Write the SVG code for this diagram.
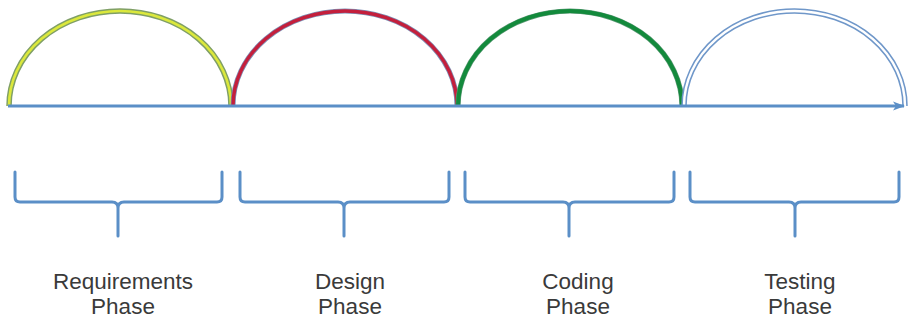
<svg xmlns="http://www.w3.org/2000/svg" width="910" height="324" viewBox="0 0 910 324">
  <defs>
    <style>
      .brace { fill: none; stroke: #5b8fc7; stroke-width: 3; stroke-linecap: round; stroke-linejoin: round; }
      .arc { fill: none; stroke-linecap: butt; }
      .label { font-family: "Liberation Sans", Arial, sans-serif; font-size: 22.5px; fill: #3a3a3a; text-anchor: middle; }
      .axis { fill: none; stroke: #5b8fc7; stroke-width: 3; }
    </style>
    <marker id="arrow" viewBox="0 0 12 10" refX="11" refY="5" markerWidth="12" markerHeight="10" markerUnits="userSpaceOnUse" orient="auto">
      <path d="M0,0.5 L12,5 L0,9.5 L3,5 Z" fill="#5b8fc7"/>
    </marker>
  </defs>
  <rect width="910" height="324" fill="#ffffff"/>

  <g id="requirements">
    <path class="arc" d="M9,106 A111,95 0 0 1 231,106" stroke="#7f9f66" stroke-width="5.5"/>
    <path class="arc" d="M9,106 A111,95 0 0 1 231,106" stroke="#dbe83c" stroke-width="2.6"/>
    <path class="brace" d="M15,172 V197 Q15,202 20,202 H112 Q118,202 118,208 V236 M118,208 Q118,202 124,202 H217 Q222,202 222,197 V172"/>
    <text class="label" x="123" y="289">Requirements</text>
    <text class="label" x="123" y="314">Phase</text>
  </g>

  <g id="design">
    <path class="arc" d="M233,106 A112,95 0 0 1 457,106" stroke="#7d8fb4" stroke-width="5"/>
    <path class="arc" d="M233,106 A112,95 0 0 1 457,106" stroke="#c41f3c" stroke-width="3.4"/>
    <path class="brace" d="M240,172 V197 Q240,202 245,202 H338 Q344,202 344,208 V236 M344,208 Q344,202 350,202 H444 Q449,202 449,197 V172"/>
    <text class="label" x="350" y="289">Design</text>
    <text class="label" x="350" y="314">Phase</text>
  </g>

  <g id="coding">
    <path class="arc" d="M458,106 A112,95 0 0 1 682,106" stroke="#5f9a78" stroke-width="5.2"/>
    <path class="arc" d="M458,106 A112,95 0 0 1 682,106" stroke="#138a3c" stroke-width="4"/>
    <path class="brace" d="M465,172 V197 Q465,202 470,202 H563 Q569,202 569,208 V236 M569,208 Q569,202 575,202 H669 Q674,202 674,197 V172"/>
    <text class="label" x="578" y="289">Coding</text>
    <text class="label" x="578" y="314">Phase</text>
  </g>

  <g id="testing">
    <path class="arc" d="M684,106 A110.5,95 0 0 1 905,106" stroke="#6f97c9" stroke-width="5.5"/>
    <path class="arc" d="M684,106 A110.5,95 0 0 1 905,106" stroke="#ffffff" stroke-width="2.4"/>
    <path class="brace" d="M690,172 V197 Q690,202 695,202 H789 Q795,202 795,208 V236 M795,208 Q795,202 801,202 H894 Q899,202 899,197 V172"/>
    <text class="label" x="800" y="289">Testing</text>
    <text class="label" x="800" y="314">Phase</text>
  </g>

  <g id="connectors">
    <line class="axis" x1="8" y1="106" x2="904" y2="106" marker-end="url(#arrow)"/>
  </g>
</svg>
